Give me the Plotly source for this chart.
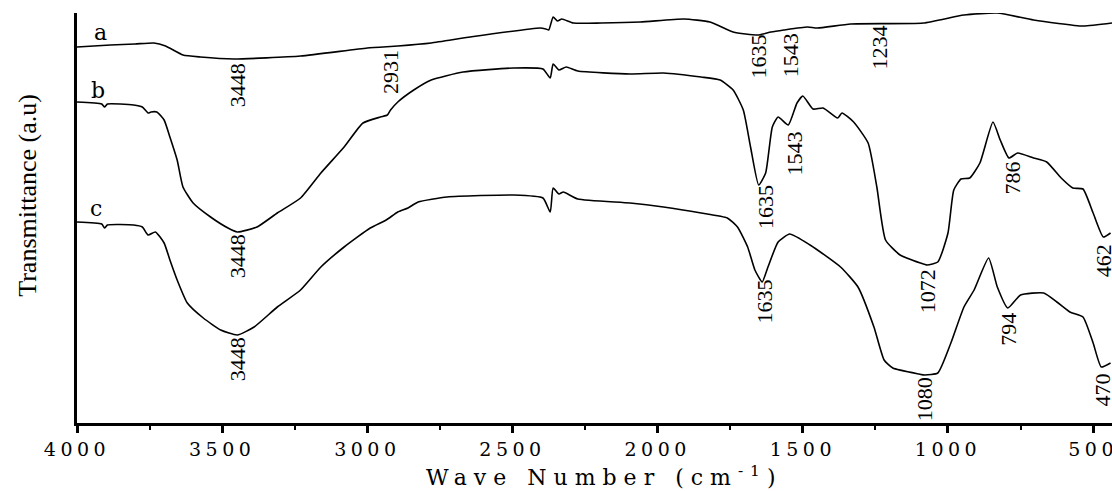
import plotly.graph_objects as go

# ---------------- data ----------------
a_wn = [4000, 3885, 3800, 3735, 3695, 3635, 3575, 3460, 3230, 3000, 2895, 2780, 2645, 2405, 2385,
        2375, 2360, 2345, 2330, 2290, 2195, 2060, 1910, 1820, 1740, 1655, 1610, 1565, 1485, 1450,
        1335, 1085, 945, 830, 705, 535, 435]
a_t = [377, 379, 380, 381, 378, 369, 367, 365, 368, 376, 378, 381, 387, 396, 395,
       394, 407, 403, 405, 401, 401, 402, 405, 402, 392, 389, 392, 394, 397, 396,
       400, 401, 409, 411, 404, 398, 401]

b_wn = [4000, 3915, 3905, 3895, 3805, 3775, 3755, 3745, 3725, 3700, 3680, 3655, 3635, 3600, 3540,
        3480, 3448, 3380, 3310, 3230, 3160, 3080, 3015, 2955, 2931, 2920, 2895, 2840, 2780, 2670,
        2495, 2395, 2370, 2360, 2340, 2315, 2275, 2095, 1980, 1850, 1785, 1740, 1705, 1680, 1652,
        1628, 1605, 1585, 1550, 1520, 1500, 1465, 1430, 1380, 1365, 1325, 1275, 1245, 1215, 1165,
        1095, 1072, 1035, 1000, 980, 955, 925, 890, 845, 820, 790, 760, 705, 660, 610,
        570, 535, 500, 465, 440]
b_t = [322, 320, 317, 320, 319, 317, 311, 312, 312, 304, 287, 264, 237, 221, 207,
       196, 192, 197, 211, 226, 251, 277, 301, 307, 309, 314, 322, 334, 344, 352,
       356, 355, 346, 360, 354, 357, 353, 350, 351, 347, 344, 334, 314, 277, 239,
       251, 297, 307, 299, 321, 328, 315, 316, 306, 311, 302, 281, 237, 184, 169,
       161, 159, 162, 191, 234, 245, 246, 261, 302, 284, 266, 271, 266, 262, 246,
       236, 235, 211, 187, 191]

c_wn = [4000, 3915, 3905, 3895, 3805, 3775, 3755, 3730, 3700, 3680, 3655, 3620, 3565, 3505, 3448,
        3390, 3310, 3230, 3160, 3080, 2990, 2935, 2895, 2860, 2825, 2725, 2495, 2395, 2370, 2360,
        2340, 2325, 2275, 2095, 1980, 1850, 1760, 1725, 1690, 1665, 1640, 1620, 1585, 1545, 1475,
        1370, 1310, 1255, 1220, 1190, 1100, 1080, 1035, 990, 945, 910, 860, 830, 794, 750,
        670, 625, 580, 535, 500, 472, 440]
c_t = [202, 200, 196, 199, 199, 197, 189, 192, 181, 164, 144, 121, 106, 94, 89,
       97, 117, 134, 157, 177, 196, 204, 212, 216, 222, 227, 229, 226, 212, 236,
       230, 232, 225, 221, 217, 211, 206, 197, 177, 154, 142, 157, 182, 190, 179,
       157, 137, 97, 64, 56, 50, 49, 51, 81, 117, 134, 166, 137, 116, 129,
       131, 122, 112, 107, 81, 57, 61]

series_names = ["a", "b", "c"]

# peak labels: text, wavenumber position, transmittance position
peak_text = ["3448", "2931", "1635", "1543", "1234",
             "3448", "1635", "1543", "1072", "786", "462",
             "3448", "1635", "1080", "794", "470"]
peak_x = [3448, 2922, 1656, 1543, 1236,
          3448, 1630, 1532, 1071, 778, 465,
          3448, 1632, 1082, 794, 468]
peak_y = [339, 352, 367, 369, 377,
          168, 217, 270, 133, 246, 163,
          65, 123, 25, 95, 34]

# series letter positions
letter_x = [3919, 3929, 3936]
letter_y = [392, 334, 216]

tick_vals = [4000, 3500, 3000, 2500, 2000, 1500, 1000, 500]
minor_vals = [3750, 3250, 2750, 2250, 1750, 1250, 750]
tick_labels = [str(v) for v in tick_vals]

x_title = "Wave Number (cm<sup>-1</sup>)"
y_title = "Transmittance (a.u)"

# ---------------- figure ----------------
fig = go.Figure()
for wn, t, name in zip([a_wn, b_wn, c_wn], [a_t, b_t, c_t], series_names):
    fig.add_trace(go.Scatter(x=wn, y=t, mode="lines", name=name,
                             line=dict(color="black", width=1.6, shape="spline", smoothing=0.5),
                             showlegend=False, hoverinfo="skip"))

annotations = []
for txt, x, y in zip(peak_text, peak_x, peak_y):
    annotations.append(dict(x=x, y=y, xref="x", yref="y", text=txt, textangle=-90,
                            showarrow=False, xanchor="center", yanchor="middle",
                            font=dict(family="Liberation Serif", size=22, color="black")))
for name, x, y in zip(series_names, letter_x, letter_y):
    annotations.append(dict(x=x, y=y, xref="x", yref="y", text=name, showarrow=False,
                            xanchor="center", yanchor="middle",
                            font=dict(family="DejaVu Serif", size=22, color="black")))
annotations.append(dict(x=-0.048, y=0.555, xref="paper", yref="paper", text=y_title,
                        textangle=-90, showarrow=False, xanchor="center", yanchor="middle",
                        font=dict(family="Liberation Serif", size=26, color="black")))
annotations.append(dict(x=0.51, y=-0.13, xref="paper", yref="paper",
                        text='<span style="letter-spacing:7px">' + x_title + '</span>',
                        showarrow=False, xanchor="center", yanchor="middle",
                        font=dict(family="DejaVu Serif", size=22, color="black")))

fig.update_layout(
    width=1112, height=491,
    margin=dict(l=77, r=0, t=13, b=68, autoexpand=False),
    paper_bgcolor="white", plot_bgcolor="white",
    annotations=annotations,
    xaxis=dict(range=[4000, 435], showgrid=False, zeroline=False, automargin=False,
               showline=True, linecolor="black", linewidth=2.5,
               ticks="outside", ticklen=7, tickwidth=2.5, tickcolor="black",
               tickvals=tick_vals,
               ticktext=['<span style="letter-spacing:4.5px">' + s + '</span>' for s in tick_labels],
               tickfont=dict(family="DejaVu Serif", size=19, color="black"),
               ticklabeloverflow="allow",
               minor=dict(tickvals=minor_vals, ticks="outside", ticklen=4, tickwidth=2,
                          tickcolor="black", showgrid=False)),
    yaxis=dict(range=[1, 411], showgrid=False, zeroline=False, showticklabels=False,
               automargin=False,
               ticks="", showline=True, linecolor="black", linewidth=3),
)

fig.write_html("out.html", config={"displayModeBar": False},
               post_script="document.body.style.margin='0';document.body.style.overflow='hidden';")
